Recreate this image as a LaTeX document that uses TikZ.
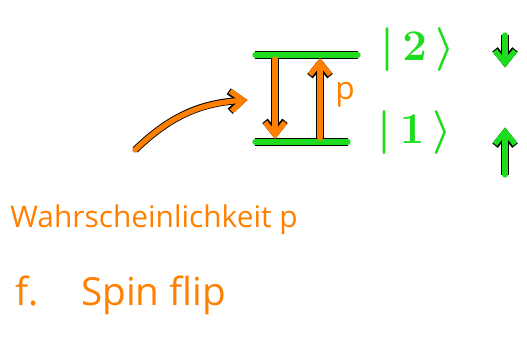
\documentclass[tikz,border=0pt]{standalone}
\usepackage{fontspec}
\setmainfont{Open Sans}
\usepackage{tikz}
\usetikzlibrary{arrows.meta,positioning}

\definecolor{penorange}{RGB}{255,128,0}
\definecolor{pengreen}{RGB}{30,220,30}

\begin{document}
\begin{tikzpicture}[
  stroke/.style={line width=3pt,line cap=round,preaction={draw=black,line width=4pt}},
  level/.style={stroke,draw=pengreen},
  flip/.style={stroke,draw=penorange,-{Straight Barb[length=2.5mm,width=4mm]}},
  spin/.style={stroke,draw=pengreen,-{Straight Barb[length=2.5mm,width=4mm]}},
  ket/.style={text=pengreen,font=\fontsize{26}{28}\selectfont\boldmath,inner sep=0pt},
  note/.style={text=penorange,font=\fontsize{17}{20}\selectfont,inner sep=0pt,anchor=west}
]
\useasboundingbox (0,0) rectangle (10.54,-6.84);
% energy levels
\coordinate (up1) at (5.1,-1.1);
\coordinate (up2) at (7.16,-1.1);
\coordinate (lo1) at (5.1,-2.84);
\coordinate (lo2) at (6.96,-2.84);
\draw[level] (up1)--(up2);
\draw[level] (lo1)--(lo2);
% transitions
\coordinate (dtop) at (5.5,-1.18);
\coordinate (dbot) at (5.5,-2.78);
\coordinate (ubot) at (6.4,-2.76);
\coordinate (utop) at (6.4,-1.16);
\draw[flip] (dtop)--(dbot);
\draw[flip] (ubot)--(utop);
\node[text=penorange,font=\fontsize{18}{20}\selectfont] (prob) at (6.9,-1.9) {p};
% pointer
\coordinate (tail) at (2.7,-3.0);
\coordinate (head) at (4.95,-2.0);
\draw[flip] (tail) to[bend left=20] (head);
% labels
\node[ket] (ket2) at (8.35,-1.0) {$|\,2\,\rangle$};
\node[ket] (ket1) at (8.3,-2.65) {$|\,1\,\rangle$};
\coordinate (s2a) at (10.1,-0.7);
\coordinate (s2b) at (10.1,-1.35);
\coordinate (s1a) at (10.1,-3.5);
\coordinate (s1b) at (10.1,-2.55);
\draw[spin] (s2a)--(s2b);
\draw[spin] (s1a)--(s1b);
% text
\node[note] (wahr) at (0.2,-4.4) {Wahrscheinlichkeit p};
\node[note,font=\fontsize{22}{24}\selectfont] (spinflip) at (0.3,-5.9) {f.\hspace{0.85cm}Spin flip};
\end{tikzpicture}
\end{document}
